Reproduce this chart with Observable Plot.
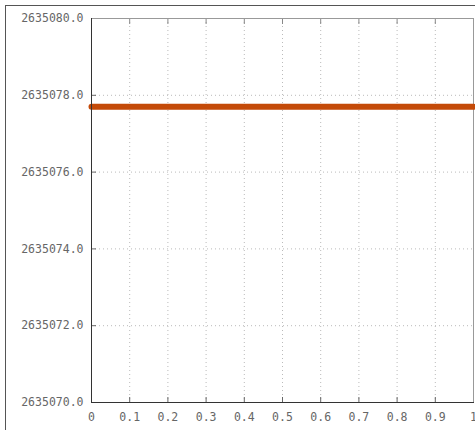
<!DOCTYPE html>
<html><head><meta charset="utf-8">
<script src="https://cdn.jsdelivr.net/npm/d3@7"></script>
<script src="https://cdn.jsdelivr.net/npm/@observablehq/plot@0.6"></script>
<style>
html,body{margin:0;padding:0;background:#fff;overflow:hidden;}
#wrap{position:relative;width:475px;height:430px;}
#outer{position:absolute;left:5px;top:5px;width:520px;height:520px;border:1px solid #555;box-sizing:border-box;pointer-events:none;}
</style>
</head><body>
<div id="wrap"><div id="outer"></div></div>
<script>
const xs = [0, 1];
const ys = [2635077.7, 2635077.7];
const xTicks = [0, 0.1, 0.2, 0.3, 0.4, 0.5, 0.6, 0.7, 0.8, 0.9, 1];
const yTicks = [2635070, 2635072, 2635074, 2635076, 2635078, 2635080];
const lineColor = "#c44a08";

const data = xs.map((x, i) => ({x, y: ys[i]}));

const chart = Plot.plot({
  width: 475,
  height: 430,
  marginLeft: 91,
  marginTop: 18,
  marginRight: 2,
  marginBottom: 28,
  style: {fontFamily: "'DejaVu Sans Mono', monospace", fontSize: "11.5px", color: "#666", background: "transparent"},
  x: {domain: [0, 1], label: null},
  y: {domain: [2635070, 2635080], label: null},
  marks: [
    Plot.gridX(xTicks, {stroke: "#bbb", strokeOpacity: 1, strokeDasharray: "1,3"}),
    Plot.gridY(yTicks, {stroke: "#bbb", strokeOpacity: 1, strokeDasharray: "1,3"}),
    Plot.axisX(xTicks, {anchor: "bottom", tickSize: -5, text: null, stroke: "#666", label: null}),
    Plot.axisX(xTicks, {anchor: "top", tickSize: -5, text: null, stroke: "#888", label: null}),
    Plot.axisX(xTicks, {anchor: "bottom", tickSize: 0, tickPadding: 10, tickFormat: d => String(d), label: null, fill: "#666"}),
    Plot.axisY(yTicks, {anchor: "left", tickSize: -5, text: null, stroke: "#666", label: null}),
    Plot.axisY(yTicks, {anchor: "left", tickSize: 0, tickPadding: 8, tickFormat: d3.format(".1f"), label: null, fill: "#666"}),
    Plot.frame({anchor: "top", stroke: "#999"}),
    Plot.frame({anchor: "right", stroke: "#999"}),
    Plot.line(data, {x: "x", y: "y", stroke: lineColor, strokeWidth: 6}),
    Plot.frame({anchor: "left", stroke: "#333"}),
    Plot.frame({anchor: "bottom", stroke: "#333"})
  ]
});
document.getElementById("wrap").prepend(chart);
</script>
</body></html>
